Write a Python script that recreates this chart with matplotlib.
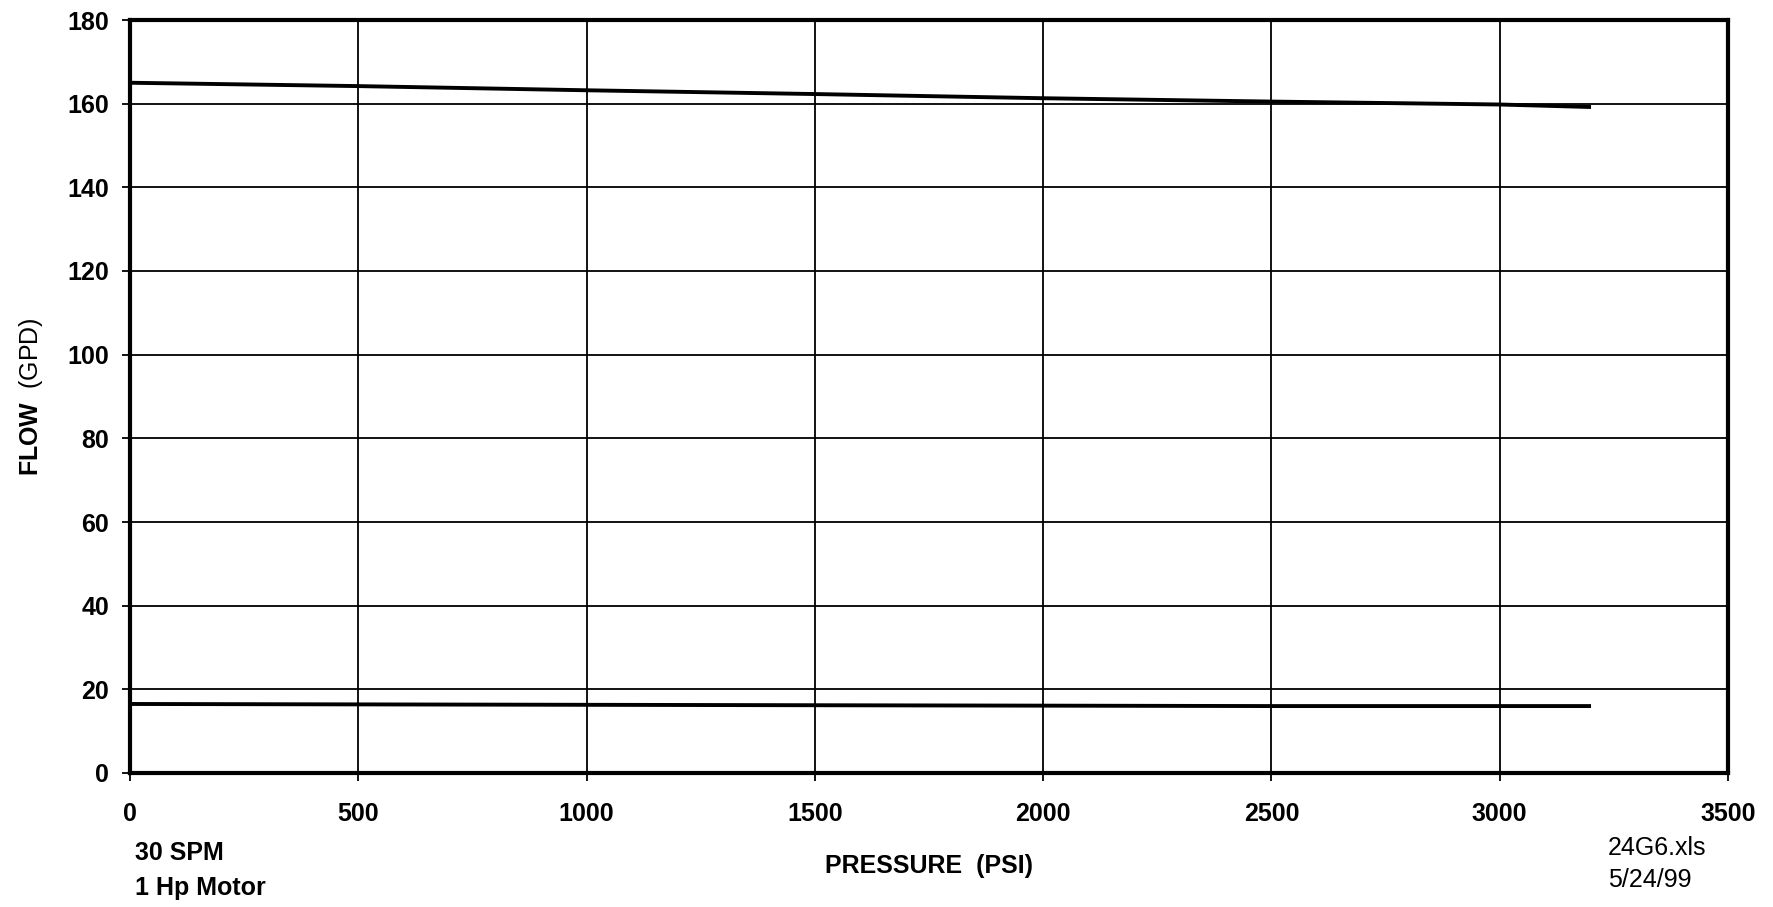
import matplotlib.pyplot as plt

plt.rcParams['font.family'] = ['Liberation Sans', 'DejaVu Sans']
plt.rcParams['mathtext.fontset'] = 'custom'
plt.rcParams['mathtext.rm'] = 'Liberation Sans'
plt.rcParams['mathtext.bf'] = 'Liberation Sans:bold'

# pressure (psi) and flow (gpd)
pressure = [0, 500, 1000, 1500, 2000, 2500, 3000, 3200]
flow_max = [165.0, 164.2, 163.2, 162.3, 161.3, 160.5, 159.8, 159.2]
flow_min = [16.5, 16.4, 16.3, 16.2, 16.1, 16.0, 16.0, 16.0]

x_ticks = [0, 500, 1000, 1500, 2000, 2500, 3000, 3500]
y_ticks = [0, 20, 40, 60, 80, 100, 120, 140, 160, 180]

fig = plt.figure(figsize=(17.73, 9.07), dpi=100)
ax = fig.add_axes([130 / 1773, 1 - 773 / 907, 1598 / 1773, 753 / 907])

ax.plot(pressure, flow_max, color='black', lw=2.8, solid_capstyle='butt')
ax.plot(pressure, flow_min, color='black', lw=2.8, solid_capstyle='butt')

ax.set_xlim(0, 3500)
ax.set_ylim(0, 180)
ax.set_xticks(x_ticks)
ax.set_yticks(y_ticks)
ax.grid(True, color='black', lw=1.3)
ax.set_axisbelow(True)
for s in ax.spines.values():
    s.set_linewidth(3)
ax.tick_params(axis='both', direction='out', length=6, width=1.3, labelsize=18)
ax.tick_params(axis='y', pad=9)
ax.tick_params(axis='x', pad=15)
for lab in ax.get_xticklabels() + ax.get_yticklabels():
    lab.set_fontweight('bold')

ax.set_xlabel("PRESSURE  (PSI)", fontsize=18, fontweight='bold', labelpad=20)
ax.set_ylabel(r"$\mathbf{FLOW}$  (GPD)", fontsize=18, labelpad=16)

fig.text(135 / 1773, 1 - 853 / 907, "30 SPM", fontsize=18, fontweight='bold', va='center')
fig.text(135 / 1773, 1 - 888 / 907, "1 Hp Motor", fontsize=18, fontweight='bold', va='center')
fig.text(1608 / 1773, 1 - 848 / 907, "24G6.xls", fontsize=18, va='center')
fig.text(1608 / 1773, 1 - 880 / 907, "5/24/99", fontsize=18, va='center')

fig.savefig("out.png", dpi=100)
